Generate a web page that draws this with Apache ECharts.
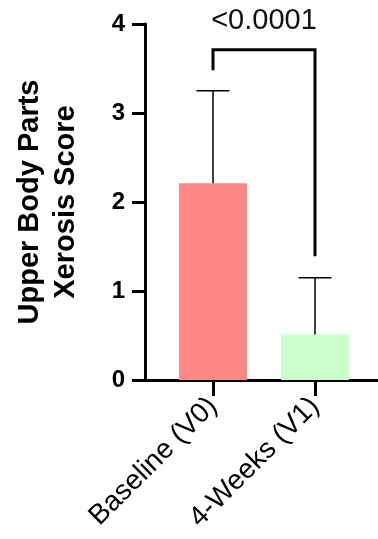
<!DOCTYPE html>
<html><head><meta charset="utf-8">
<script src="https://cdn.jsdelivr.net/npm/echarts/dist/echarts.min.js"></script>
<style>html,body{margin:0;padding:0;background:#fff}#c{width:378px;height:539px}</style>
</head><body><div id="c"></div>
<script>
const categories = ['Baseline (V0)', '4-Weeks (V1)'];
const means = [2.21, 0.51];
const sdUpper = [3.25, 1.15];
const barColors = ['#FF8787', '#CCFFCC'];
const yMin = 0, yMax = 4, yInterval = 1;
const pValueText = '<0.0001';
const bracketTop = 3.71, bracketLeftEnd = 3.48, bracketRightEnd = 1.39, pValueY = 4.03;
const yTitle = 'Upper Body Parts\nXerosis Score';

const FONT = 'Liberation Sans, Arial, sans-serif';
const chart = echarts.init(document.getElementById('c'), null, {renderer: 'canvas'});
chart.setOption({
  animation: false,
  backgroundColor: '#fff',
  grid: [
    {left: 145, right: 0, top: 24, bottom: 159},
    {left: 162, right: 12, top: 24, bottom: 159}
  ],
  xAxis: [
    {gridIndex: 0, type: 'value', min: 0, max: 1, splitLine: {show: false},
     axisLine: {show: true, lineStyle: {color: '#000', width: 3}},
     axisTick: {show: false}, axisLabel: {show: false}},
    {gridIndex: 1, type: 'category', data: categories, boundaryGap: true,
     axisLine: {show: false},
     axisTick: {show: true, alignWithLabel: true, length: 16, lineStyle: {color: '#000', width: 3}},
     axisLabel: {rotate: 45, margin: 22, color: '#000', fontSize: 28, fontFamily: FONT, interval: 0},
     splitLine: {show: false}}
  ],
  yAxis: [
    {gridIndex: 0, type: 'value', min: yMin, max: yMax, interval: yInterval,
     splitLine: {show: false},
     axisLine: {show: true, lineStyle: {color: '#000', width: 3}},
     axisTick: {show: true, length: 13, lineStyle: {color: '#000', width: 3}},
     axisLabel: {color: '#000', fontSize: 24, fontWeight: 'bold', fontFamily: FONT, margin: 20},
     name: yTitle, nameLocation: 'middle', nameGap: 61,
     nameTextStyle: {color: '#000', fontSize: 29, fontWeight: 'bold', fontFamily: FONT, lineHeight: 36, align: 'center'}},
    {gridIndex: 1, type: 'value', min: yMin, max: yMax, interval: yInterval, show: false}
  ],
  series: [
    {type: 'bar', xAxisIndex: 1, yAxisIndex: 1, barWidth: 68,
     data: means.map((v, i) => ({value: v, itemStyle: {color: barColors[i]}})), z: 2},
    {type: 'custom', xAxisIndex: 1, yAxisIndex: 1, z: 3,
     data: means.map((m, i) => [i, m, sdUpper[i]]),
     renderItem: (params, api) => {
       const x = api.value(0);
       const lo = api.coord([x, api.value(1)]);
       const hi = api.coord([x, api.value(2)]);
       const hw = 16.5;
       return {type: 'group', children: [
         {type: 'line', shape: {x1: lo[0], y1: lo[1], x2: hi[0], y2: hi[1]}, style: {stroke: '#000', lineWidth: 1.5}},
         {type: 'line', shape: {x1: hi[0] - hw, y1: hi[1], x2: hi[0] + hw, y2: hi[1]}, style: {stroke: '#000', lineWidth: 1.5}}
       ]};
     }},
    {type: 'custom', xAxisIndex: 1, yAxisIndex: 1, z: 4, clip: false,
     data: [[0, 1, bracketTop, bracketLeftEnd, bracketRightEnd, pValueY]],
     renderItem: (params, api) => {
       const a = api.value(0), b = api.value(1);
       const pL = api.coord([a, api.value(3)]);
       const pLT = api.coord([a, api.value(2)]);
       const pRT = api.coord([b, api.value(2)]);
       const pR = api.coord([b, api.value(4)]);
       const pT = api.coord([a, api.value(5)]);
       const midX = (pLT[0] + pRT[0]) / 2;
       return {type: 'group', children: [
         {type: 'polyline', shape: {points: [pL, pLT, pRT, pR]},
          style: {stroke: '#000', lineWidth: 3, fill: null, lineJoin: 'miter'}},
         {type: 'text', x: midX, y: pT[1],
          style: {text: pValueText, fill: '#111', fontSize: 29, fontFamily: FONT, align: 'center', verticalAlign: 'middle'}}
       ]};
     }}
  ]
});
</script></body></html>
